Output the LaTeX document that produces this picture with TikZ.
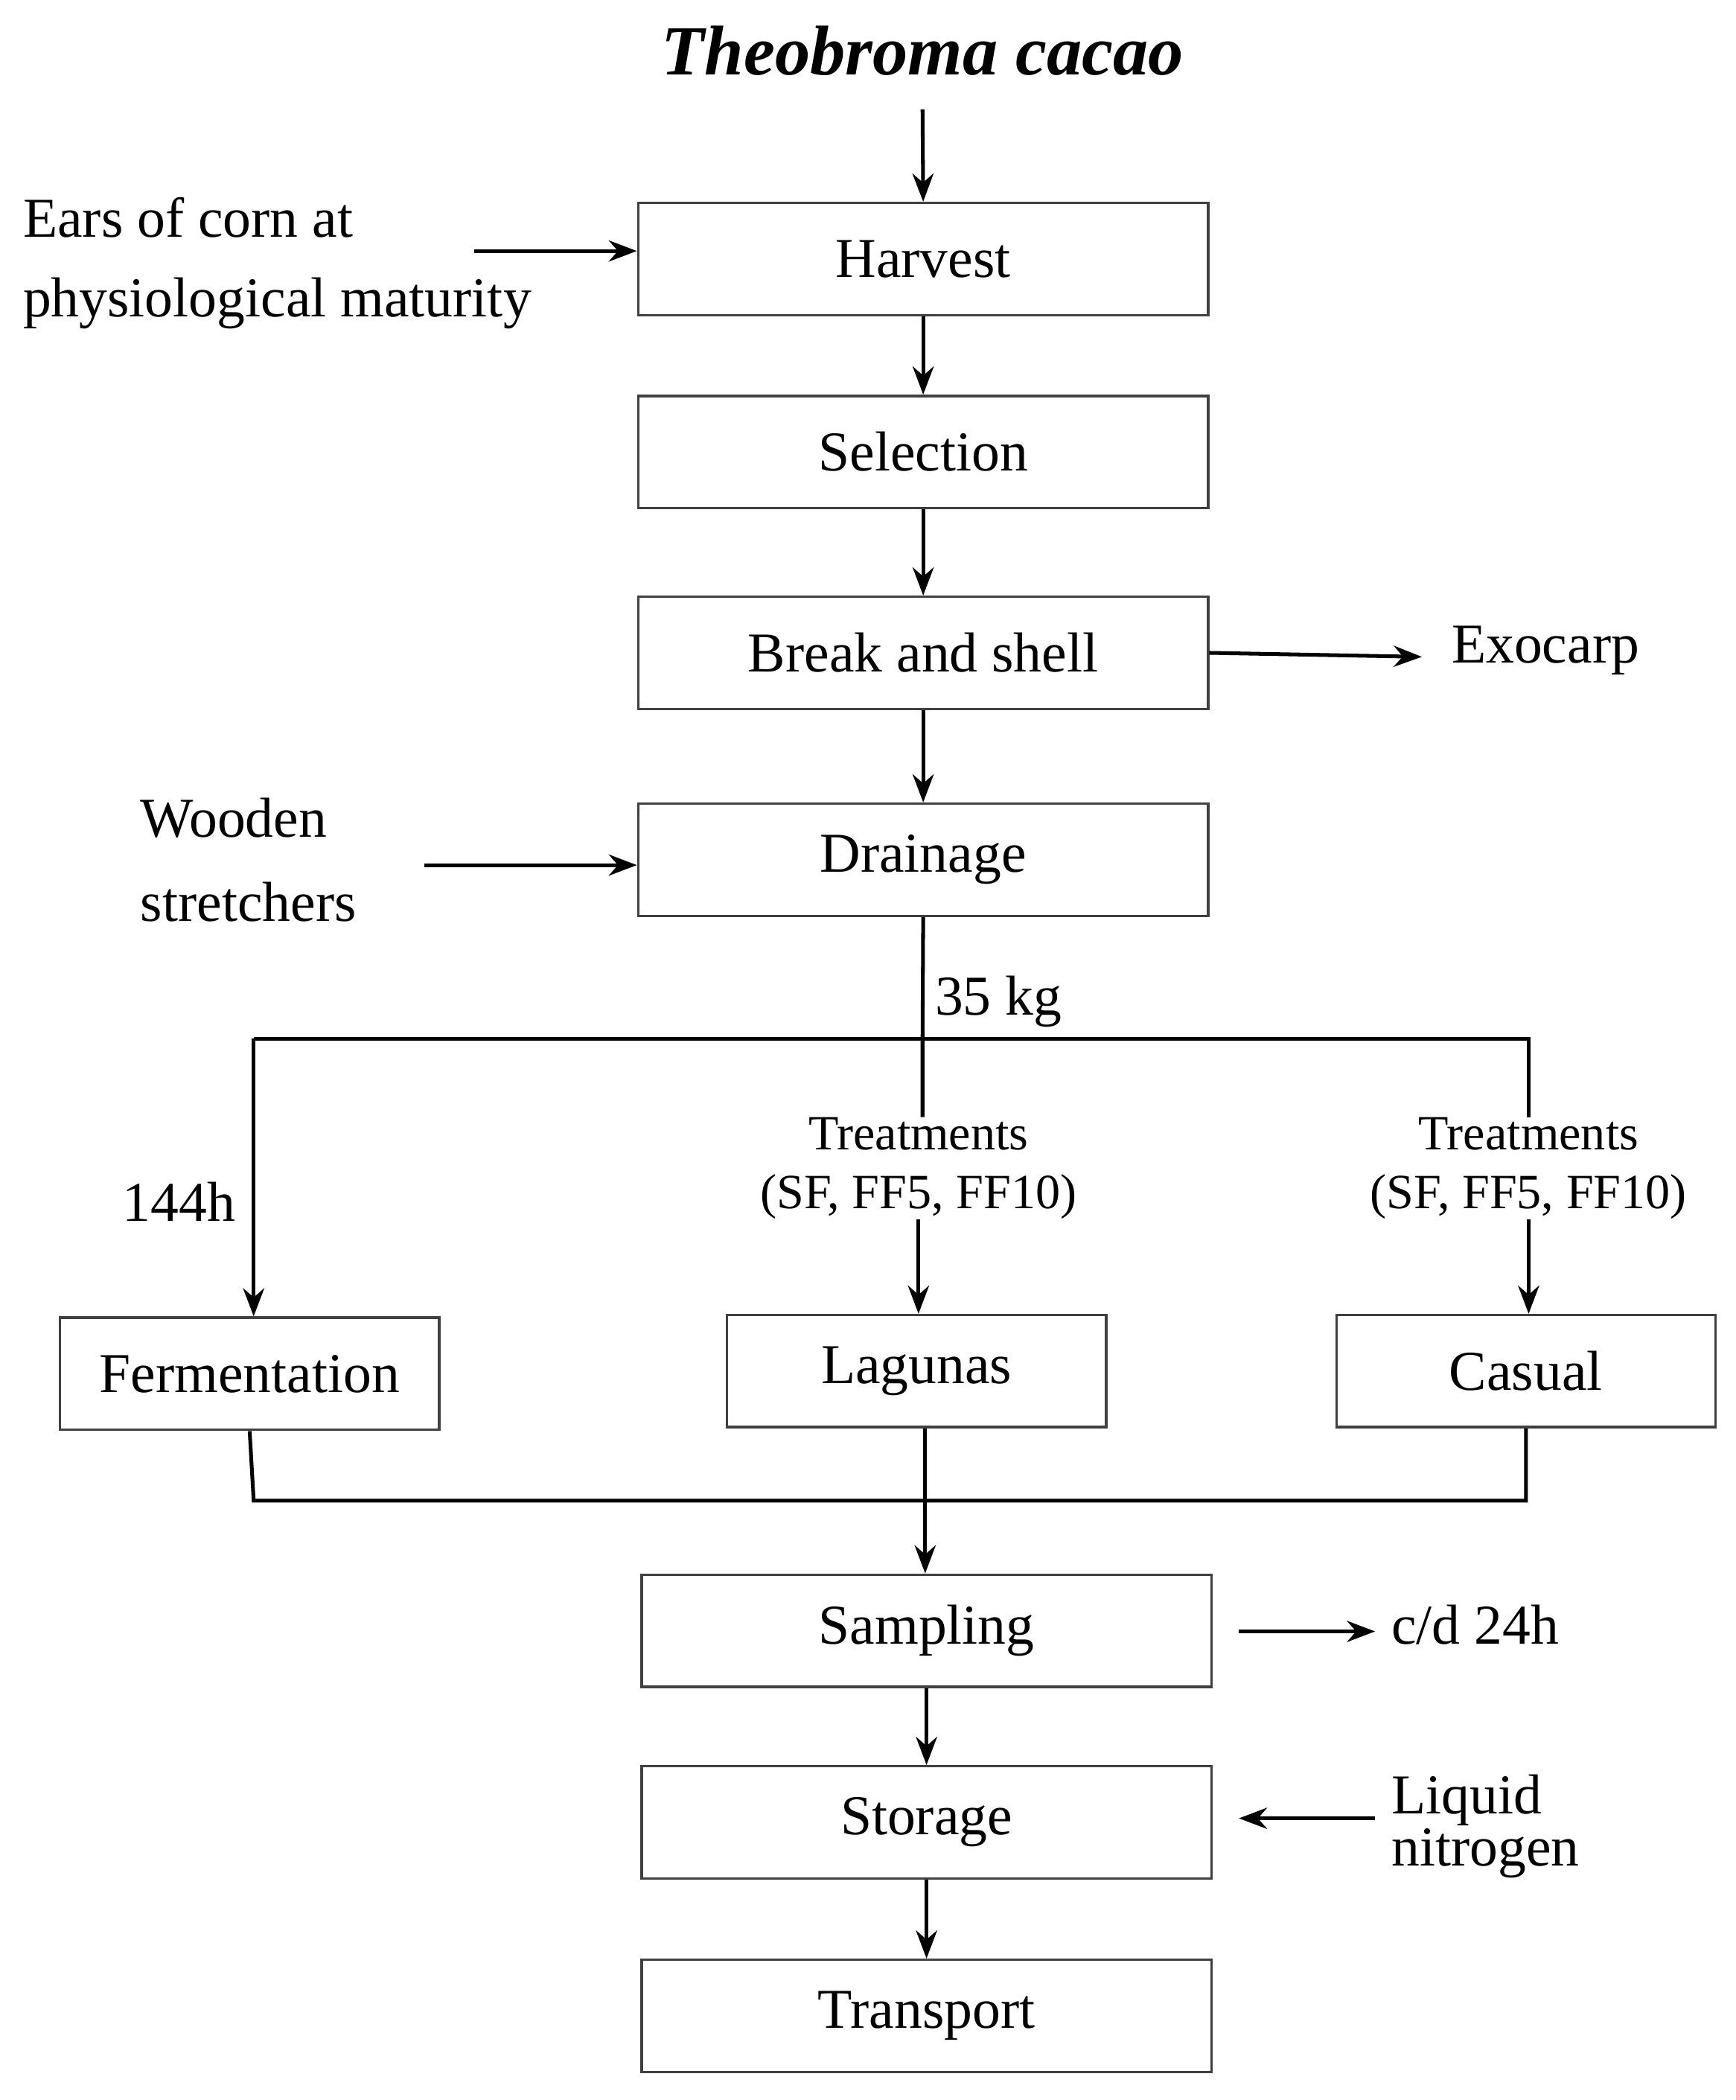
\documentclass[tikz,border=0pt]{standalone}
\usepackage{fontspec}
\setmainfont{Liberation Serif}
\usetikzlibrary{arrows.meta}
\begin{document}
\begin{tikzpicture}[x=0.02cm,y=-0.02cm,
  box/.style={draw=black!75,line width=1.1pt,minimum height=1.68cm,inner sep=0pt,font=\fontsize{24}{28}\selectfont},
  wbox/.style={box,minimum width=8.54cm},
  sbox/.style={box,minimum width=5.68cm},
  txt/.style={font=\fontsize{24}{28}\selectfont,inner sep=0pt},
  stxt/.style={font=\fontsize{21}{25}\selectfont,inner sep=0pt,align=center},
  arr/.style={line width=1.6pt,-{Stealth[length=12pt,width=9pt]}},
  ln/.style={line width=1.6pt}]
\useasboundingbox (0,0) rectangle (1300,1573);
\node[txt,font=\fontsize{30}{34}\selectfont\bfseries\itshape] (title) at (691,38) {Theobroma cacao};
\node[wbox] (harvest) at (691.5,194) {Harvest};
\node[wbox] (selection) at (691.5,338.5) {Selection};
\node[wbox] (break) at (691.5,489) {Break and shell};
\node[wbox] (drain) at (691.5,644) {Drainage};
\node[sbox] (ferm) at (187,1029) {Fermentation};
\node[sbox] (lag) at (686.5,1027) {Lagunas};
\node[sbox] (cas) at (1143,1027) {Casual};
\node[wbox] (samp) at (694,1221.5) {Sampling};
\node[wbox] (stor) at (694,1365) {Storage};
\node[wbox] (trans) at (694,1510) {Transport};
\node[txt,align=left,anchor=west] (ears) at (17,197) {Ears of corn at\\[6pt]physiological maturity};
\node[txt,anchor=west] (exo) at (1087,487) {Exocarp};
\node[txt,align=left,anchor=west] (wood) at (105,644) {Wooden\\[8pt]stretchers};
\node[txt,anchor=west] (kg) at (700,750) {35 kg};
\node[txt] (h144) at (134,900) {144h};
\node[stxt] (t1) at (688,875) {Treatments\\(SF, FF5, FF10)};
\node[stxt] (t2) at (1145,875) {Treatments\\(SF, FF5, FF10)};
\node[txt,anchor=west] (cd) at (1042,1217) {c/d 24h};
\node[txt,align=left,anchor=west] (liq) at (1042,1368) {Liquid\\[-6pt]nitrogen};
\coordinate (tb) at (691,82);
\coordinate (ea) at (355,188);
\coordinate (wa) at (318,648);
\coordinate (bl) at (190,778);
\coordinate (bc) at (691,778);
\coordinate (br) at (1145,778);
\coordinate (ml) at (190,1124);
\coordinate (mr) at (1143,1124);
\coordinate (sa) at (928,1222);
\coordinate (sb) at (1030,1222);
\coordinate (la) at (1030,1362);
\coordinate (lb) at (928,1362);
\draw[arr] (tb) -- (harvest.north);
\draw[arr] (ea) -- (ea-|harvest.west);
\draw[arr] (harvest) -- (selection);
\draw[arr] (selection) -- (break);
\draw[arr] (break.east) -- (1065,492);
\draw[arr] (break) -- (drain);
\draw[arr] (wa) -- (wa-|drain.west);
\draw[ln] (drain.south) -- (bc) -- (t1.north-|bc);
\draw[ln] (bl) -- (br) -- (t2.north);
\draw[arr] (bl) -- (bl|-ferm.north);
\draw[arr] (t1.south) -- (t1.south|-lag.north);
\draw[arr] (t2.south) -- (t2.south|-cas.north);
\draw[ln] (ferm.south) -- (ml) -- (mr) -- (cas.south);
\draw[arr] (lag.south-|693,0) -- (samp.north-|693,0);
\draw[arr] (sa) -- (sb);
\draw[arr] (samp) -- (stor);
\draw[arr] (la) -- (lb);
\draw[arr] (stor) -- (trans);
\end{tikzpicture}
\end{document}
